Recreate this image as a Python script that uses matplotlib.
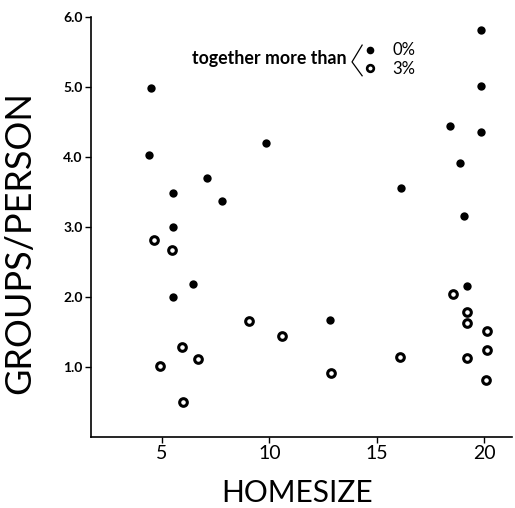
import matplotlib
matplotlib.use("Agg")
import matplotlib.pyplot as plt

# --- данные ---
# группы, которые были вместе более 0% времени (закрашенные точки)
homesize_0 = [4.50, 4.41, 5.50, 5.50, 7.11, 7.82, 6.43, 5.53, 9.87, 12.81,
              16.15, 18.40, 18.89, 19.06, 19.19, 19.84, 19.84, 19.84]
groups_0 = [4.98, 4.03, 3.48, 3.00, 3.70, 3.37, 2.19, 2.00, 4.20, 1.67,
            3.56, 4.44, 3.92, 3.16, 2.16, 5.82, 5.02, 4.35]

# группы, которые были вместе более 3% времени (кольца)
homesize_3 = [4.64, 5.45, 4.92, 5.92, 6.69, 5.99, 9.06, 10.58, 12.86, 16.08,
              18.55, 19.19, 19.19, 19.19, 20.12, 20.15, 20.07]
groups_3 = [2.82, 2.67, 1.02, 1.28, 1.12, 0.50, 1.65, 1.44, 0.91, 1.14,
            2.04, 1.78, 1.63, 1.13, 1.51, 1.24, 0.81]

x_ticks = [5, 10, 15, 20]
y_ticks = [1.0, 2.0, 3.0, 4.0, 5.0, 6.0]

plt.rcParams['font.family'] = ['Lato', 'DejaVu Sans']

fig = plt.figure(figsize=(5.15, 5.08), dpi=100)
ax = fig.add_axes([0.1767, 0.1398, 0.8175, 0.8268])

ax.plot(homesize_0, groups_0, 'o', color='black', ms=6, mew=0, zorder=3)
ax.plot(homesize_3, groups_3, 'o', mfc='white', mec='black', ms=5.5, mew=2.2, zorder=3)

ax.set_xlim(1.7, 21.3)
ax.set_ylim(0, 6.0)
ax.set_xticks(x_ticks)
ax.set_xticklabels([str(t) for t in x_ticks], fontsize=14)
ax.set_yticks(y_ticks)
ax.set_yticklabels(["%.1f" % t for t in y_ticks], fontsize=10, fontweight='bold')
ax.tick_params(axis='both', direction='out', length=4, width=1, pad=2)

for s in ['top', 'right']:
    ax.spines[s].set_visible(False)
for s in ['left', 'bottom']:
    ax.spines[s].set_linewidth(1.2)

ax.set_xlabel("HOMESIZE", fontsize=21.5)
ax.xaxis.set_label_coords(0.490, -0.100)
ax.set_ylabel("GROUPS/PERSON", fontsize=26)
ax.yaxis.set_label_coords(-0.130, 0.464)

# --- легенда вручную ---
ax.text(0.608, 0.900, "together more than", transform=ax.transAxes,
        ha='right', va='center', fontsize=12.8, fontweight='bold')
ax.plot([0.644, 0.620, 0.644], [0.933, 0.893, 0.860], color='black', lw=0.9,
        transform=ax.transAxes, clip_on=False)
ax.plot([0.663], [0.921], 'o', color='black', ms=5.5, mew=0, transform=ax.transAxes)
ax.plot([0.663], [0.879], 'o', mfc='white', mec='black', ms=4.8, mew=1.9, transform=ax.transAxes)
ax.text(0.715, 0.921, "0%", transform=ax.transAxes, ha='left', va='center', fontsize=12)
ax.text(0.715, 0.876, "3%", transform=ax.transAxes, ha='left', va='center', fontsize=12)

fig.savefig("out.png", dpi=100)
